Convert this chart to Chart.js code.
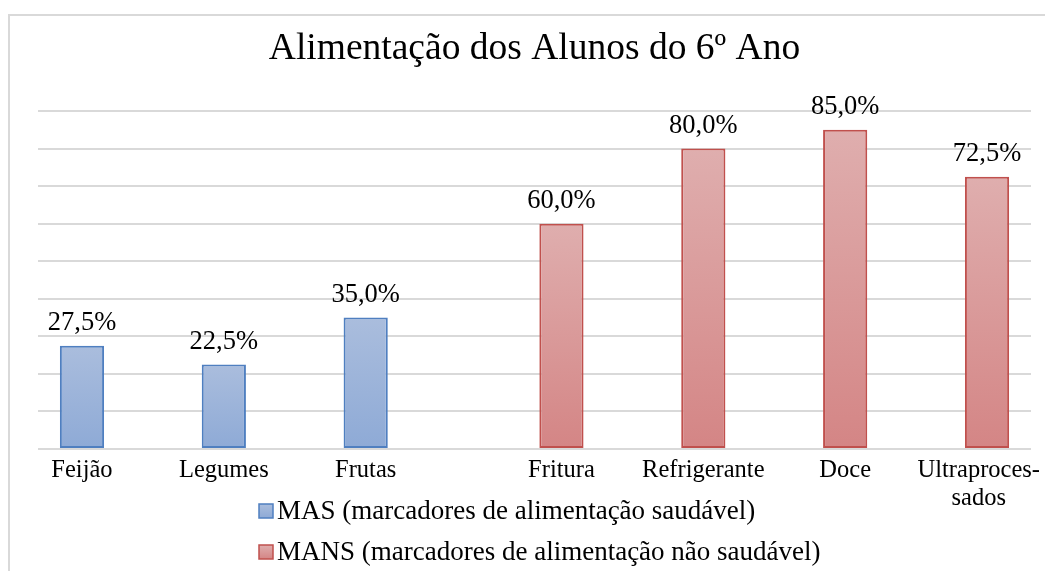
<!DOCTYPE html>
<html>
<head>
<meta charset="utf-8">
<script src="https://cdn.jsdelivr.net/npm/chart.js@4/dist/chart.umd.min.js"></script>
<style>
  html, body { margin: 0; padding: 0; background: #fff; }
  canvas { display: block; }
</style>
</head>
<body>
<canvas id="chart" width="1045" height="571"></canvas>
<script>
// data
const categories = ['Feijão', 'Legumes', 'Frutas', 'Fritura', 'Refrigerante', 'Doce', ['Ultraproces-', 'sados']];
const masValues = [27.5, 22.5, 35.0, null, null, null, null];
const mansValues = [null, null, null, 60.0, 80.0, 85.0, 72.5];
const seriesLabels = ['MAS (marcadores de alimentação saudável)', 'MANS (marcadores de alimentação não saudável)'];
const chartTitle = 'Alimentação dos Alunos do 6º Ano';

const SERIF = "'Liberation Serif', 'Times New Roman', serif";

// vertical gradient for each bar, light on top
function barFill(top, bottom) {
    return (ctx) => {
        const chart = ctx.chart;
        if (!chart.chartArea || ctx.raw == null) return top;
        const y = chart.scales.y;
        const g = chart.ctx.createLinearGradient(0, y.getPixelForValue(ctx.raw), 0, y.getPixelForValue(0));
        g.addColorStop(0, top);
        g.addColorStop(1, bottom);
        return g;
    };
}

const colors = [
    { top: '#aabddd', bottom: '#8eaad6', border: '#4f7fc0' },
    { top: '#dfaeae', bottom: '#d48585', border: '#c0504d' }
];

// outer frame like the office chart border
const framePlugin = {
    id: 'frame',
    beforeDraw(chart) {
        const c = chart.ctx;
        c.save();
        c.strokeStyle = '#d9d9d9';
        c.lineWidth = 2;
        c.strokeRect(9, 15, 1100, 700);
        c.restore();
    }
};

// value labels above bars
const valueLabels = {
    id: 'valueLabels',
    afterDatasetsDraw(chart) {
        const c = chart.ctx;
        c.save();
        c.font = '26.5px ' + SERIF;
        c.fillStyle = '#000';
        c.textAlign = 'center';
        c.textBaseline = 'alphabetic';
        chart.data.datasets.forEach((ds, di) => {
            chart.getDatasetMeta(di).data.forEach((bar, i) => {
                const v = ds.data[i];
                if (v == null) return;
                c.fillText(v.toFixed(1).replace('.', ',') + '%', bar.x, bar.y - 16);
            });
        });
        c.restore();
    }
};

// category labels under the bar that is actually drawn
const categoryLabels = {
    id: 'categoryLabels',
    afterDraw(chart) {
        const c = chart.ctx;
        c.save();
        c.font = '24.5px ' + SERIF;
        c.fillStyle = '#000';
        c.textAlign = 'center';
        c.textBaseline = 'middle';
        categories.forEach((cat, i) => {
            let x = null;
            chart.data.datasets.forEach((ds, di) => {
                if (ds.data[i] != null) x = chart.getDatasetMeta(di).data[i].x;
            });
            const lines = Array.isArray(cat) ? cat : [cat];
            const w = Math.max(...lines.map(l => c.measureText(l).width));
            if (x + w / 2 > 1040) x = 1040 - w / 2;
            lines.forEach((l, k) => c.fillText(l, x, chart.chartArea.bottom + 22 + k * 28));
        });
        c.restore();
    }
};

// legend stacked on the left, one entry per line
const stackedLegend = {
    id: 'stackedLegend',
    afterDraw(chart) {
        const c = chart.ctx;
        c.save();
        c.font = '27px ' + SERIF;
        c.textBaseline = 'middle';
        chart.data.datasets.forEach((ds, di) => {
            const y = 511 + di * 41;
            const col = colors[di];
            const g = c.createLinearGradient(0, y - 7, 0, y + 7);
            g.addColorStop(0, col.top);
            g.addColorStop(1, col.bottom);
            c.fillStyle = g;
            c.fillRect(259, y - 7, 14, 14);
            c.strokeStyle = col.border;
            c.lineWidth = 1.5;
            c.strokeRect(259, y - 7, 14, 14);
            c.fillStyle = '#000';
            c.fillText(ds.label, 277, y + 1);
        });
        c.restore();
    }
};

new Chart(document.getElementById('chart'), {
    type: 'bar',
    data: {
        labels: categories,
        datasets: [
            {
                label: seriesLabels[0],
                data: masValues,
                backgroundColor: barFill(colors[0].top, colors[0].bottom),
                borderColor: colors[0].border,
                borderWidth: 2,
                borderSkipped: false
            },
            {
                label: seriesLabels[1],
                data: mansValues,
                backgroundColor: barFill(colors[1].top, colors[1].bottom),
                borderColor: colors[1].border,
                borderWidth: 2,
                borderSkipped: false
            }
        ]
    },
    options: {
        responsive: false,
        animation: false,
        devicePixelRatio: 1,
        categoryPercentage: 0.76,
        barPercentage: 0.82,
        layout: { padding: { left: 38, right: 14, top: 0, bottom: 0 } },
        plugins: {
            legend: { display: false },
            tooltip: { enabled: false },
            title: {
                display: true,
                text: chartTitle,
                color: '#000',
                font: { family: SERIF, size: 37.5, weight: 'normal' },
                padding: { top: 27, bottom: 39 }
            }
        },
        scales: {
            x: {
                grid: { display: false },
                border: { display: false },
                ticks: { display: false },
                afterFit: (s) => { s.height = 122; }
            },
            y: {
                min: 0,
                max: 90,
                ticks: { display: false, stepSize: 10 },
                border: { display: false },
                grid: { color: '#d9d9d9', lineWidth: 2, drawTicks: false },
                afterFit: (s) => { s.width = 0; }
            }
        }
    },
    plugins: [framePlugin, valueLabels, categoryLabels, stackedLegend]
});
</script>
</body>
</html>
